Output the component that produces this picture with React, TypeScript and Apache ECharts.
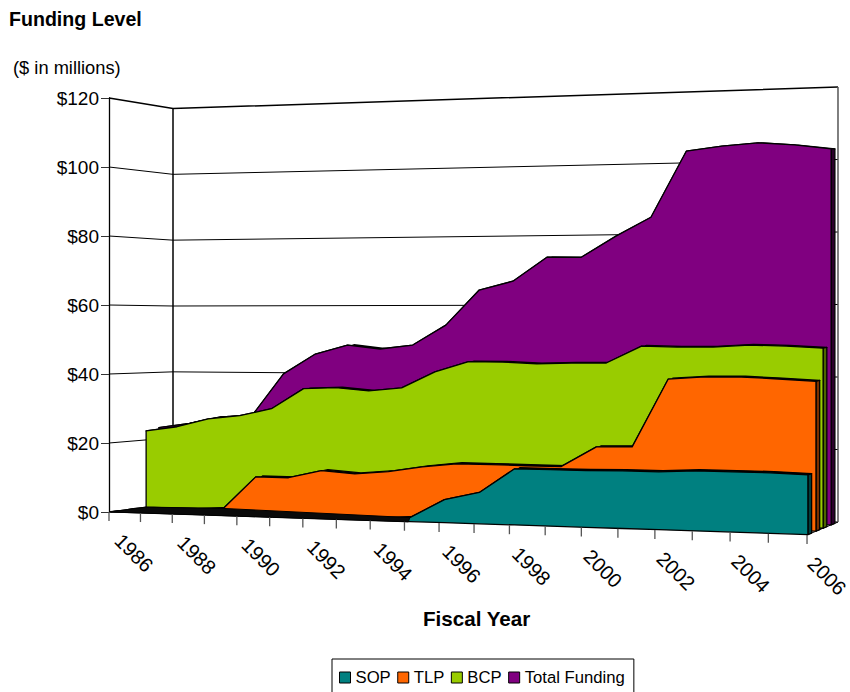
import React, { useEffect, useRef } from "react";
import * as echarts from "echarts";

const FONT = '"Liberation Sans", Arial, sans-serif';
const years = [1986,1987,1988,1989,1990,1991,1992,1993,1994,1995,1996,1997,1998,1999,2000,2001,2002,2003,2004,2005,2006];
const sop = [0,0.4,0.4,0.4,0.4,0.4,0.4,0.4,0.4,1.1,6.4,8.7,15.5,15.5,15.5,15.7,15.7,16.2,16.2,16.2,15.9];
const tlp = [0,0.3,0.6,1.2,10.6,10.6,12.9,12.2,13.1,14.7,15.8,15.8,15.7,15.7,21.4,21.6,40.4,41.1,41.2,40.8,40.3];
const bcp = [22.7,24.1,26.6,27.7,29.9,35.9,36.3,35.5,36.5,41.2,44.2,44.2,43.8,44.1,44.2,49,48.8,48.9,49.5,49.3,48.8];
const total = [23.4,24.8,26.9,27.4,39.9,45.8,48.5,47.4,48.6,54.4,64.5,67,73.8,73.7,79.6,84.8,103.1,104.3,105,104.2,102.9];
const valueTicks = [0,20,40,60,80,100,120];
const labelYears = [1986,1988,1990,1992,1994,1996,1998,2000,2002,2004,2006];

const layers = [
  { name: "Total Funding", values: total, color: "#800080", side: "#2b002b", dL: 0.78, dR: 0.78 },
  { name: "BCP", values: bcp, color: "#99CC00", side: "#4d6600", dL: 0.58, dR: 0.52 },
  { name: "TLP", values: tlp, color: "#FF6600", side: "#7a3000", dL: 0.29, dR: 0.29 },
  { name: "SOP", values: sop, color: "#008080", side: "#004040", dL: 0.03, dR: 0.03 },
];
const THICK = 0.12;
const GL = 109, GT = 98, GW = 698, GH = 414;

const lerp = (a: number, b: number, t: number) => a + (b - a) * t;
function proj(u: number, d: number, v: number): [number, number] {
  const wf = 1 - 0.082 * u, wb = 1 - 0.092 * u;
  const xf = (109 + 631.8 * u) / wf, xb = (173 + 587.9 * u) / wb;
  const yf = (512 - 20.9 * u) / wf, yb = (503.5 - 29.5 * u) / wb;
  const hf = 414 / wf, hb = 395 / wb;
  return [lerp(xf, xb, d), lerp(yf, yb, d) - v * lerp(hf, hb, d)];
}
function at(api: any, year: number, value: number, d: number): [number, number] {
  const c = api.coord([year, value]);
  return proj((c[0] - GL) / GW, d, (GT + GH - c[1]) / GH);
}
function tickAt(api: any, year: number): [number, number] {
  const c = api.coord([year, 0]);
  const u = (c[0] - GL) / GW;
  const x = (109 + 614.9 * u) / (1 - 0.103 * u);
  return [x, 512 + (23 * (x - 109)) / 698];
}

function layerSeries(l: (typeof layers)[number]) {
  return {
    type: "custom", name: l.name, coordinateSystem: "cartesian2d", silent: true, clip: false,
    itemStyle: { color: l.color },
    data: years.map((y, i) => [y, l.values[i]]),
    renderItem: (params: any, api: any) => {
      if (params.dataIndex !== 0) return null;
      const depth = (i: number) => lerp(l.dL, l.dR, i / (years.length - 1));
      const front = years.map((y, i) => at(api, y, l.values[i], depth(i)));
      const back = years.map((y, i) => at(api, y, l.values[i], depth(i) + THICK));
      const bottom = years.map((y, i) => at(api, y, 0, depth(i)));
      const n = years.length - 1;
      const last = years[n];
      const backBase = at(api, last, 0, depth(n) + THICK);
      const ink = { stroke: "#000", lineWidth: 1.3, lineJoin: "round" };
      return {
        type: "group",
        children: [
          { type: "polygon", shape: { points: [...back, ...front.slice().reverse()] }, style: { fill: "#000", ...ink } },
          { type: "polygon", shape: { points: [front[n], back[n], backBase, bottom[n]] }, style: { fill: l.side, ...ink } },
          { type: "polygon", shape: { points: [...front, ...bottom.slice().reverse()] }, style: { fill: l.color, ...ink } },
        ],
      };
    },
  };
}

const wallSeries = {
  type: "custom", coordinateSystem: "cartesian2d", silent: true, clip: false,
  data: valueTicks.map((v) => [years[0], v]),
  renderItem: (params: any, api: any) => {
    const v = api.value(1);
    const first = years[0], last = years[years.length - 1];
    const line = (pts: number[][], w: number, c = "#000") => ({
      type: "polyline", shape: { points: pts }, style: { stroke: c, lineWidth: w, fill: "none" },
    });
    const children: any[] = [];
    if (v > 0) {
      children.push(line([at(api, first, v, 0), at(api, first, v, 1), at(api, last, v, 1)], v === 120 ? 1.5 : 1));
    } else {
      children.push(line([at(api, first, 0, 0), at(api, first, 0, 1), at(api, last, 0, 1), at(api, last, 0, 0)], 1));
    }
    if (v === 120) {
      children.push(line([at(api, first, 0, 1), at(api, first, 120, 1)], 1.5));
      children.push(line([at(api, last, 0, 1), at(api, last, 120, 1)], 1.5, "#555"));
    }
    return { type: "group", children };
  },
};

// dark sliver of floor that the reference shows in front of the low early values
const wedgeSeries = {
  type: "custom", coordinateSystem: "cartesian2d", silent: true, clip: false,
  data: [[years[0], 0]],
  renderItem: (params: any, api: any) => {
    const early = years.slice(0, 10);
    const edge = early.map((y) => at(api, y, 0, 0));
    const top = [
      at(api, 1986, 0, 0.58),
      at(api, 1989, tlp[3], 0.29),
      at(api, 1995, sop[9], 0.03),
    ];
    return {
      type: "polygon",
      shape: { points: [...top, ...edge.slice().reverse()] },
      style: { fill: "#0a0a0a", stroke: "#000", lineWidth: 1 },
    };
  },
};

const tickSeries = {
  type: "custom", coordinateSystem: "cartesian2d", silent: true, clip: false, z: 5,
  data: years.map((y) => [y, 0]),
  renderItem: (params: any, api: any) => {
    const y = api.value(0);
    const p = tickAt(api, y);
    const t = (y - years[0]) / (years[years.length - 1] - years[0]);
    const children: any[] = [
      { type: "line", shape: { x1: p[0], y1: p[1], x2: p[0], y2: p[1] + 9 }, style: { stroke: "#555", lineWidth: 1.3 } },
    ];
    if (labelYears.includes(y)) {
      children.push({
        type: "text", x: p[0] + lerp(25, 20, t), y: p[1] + 41, rotation: (-45 * Math.PI) / 180,
        style: { text: String(y), fill: "#000", textAlign: "center", textVerticalAlign: "middle", font: `20px ${FONT}` },
      });
    }
    return { type: "group", children };
  },
};

export default function App() {
  const ref = useRef<HTMLDivElement>(null);
  useEffect(() => {
    document.body.style.margin = "0";
    const chart = echarts.init(ref.current!, undefined, { renderer: "svg" });
    chart.setOption({
      animation: false,
      backgroundColor: "#fff",
      textStyle: { fontFamily: FONT },
      title: [
        { text: "Funding Level", left: 9, top: 9, padding: 0, textStyle: { fontFamily: FONT, fontSize: 19.6, fontWeight: "bold", color: "#000" } },
        { text: "($ in millions)", left: 13, top: 58, padding: 0, textStyle: { fontFamily: FONT, fontSize: 18.3, fontWeight: "normal", color: "#000" } },
        { text: "Fiscal Year", left: 423, top: 608, padding: 0, textStyle: { fontFamily: FONT, fontSize: 20.6, fontWeight: "bold", color: "#000" } },
      ],
      legend: {
        left: 332, top: 659, padding: [10, 9, 9, 7], itemWidth: 11, itemHeight: 11, itemGap: 6.5,
        borderColor: "#000", borderWidth: 1, selectedMode: false, icon: "rect",
        textStyle: { fontFamily: FONT, fontSize: 16.7, color: "#000" },
        data: ["SOP", "TLP", "BCP", "Total Funding"].map((name) => ({
          name,
          itemStyle: { color: layers.find((l) => l.name === name)!.color, borderColor: "#000", borderWidth: 1 },
        })),
      },
      grid: { left: GL, top: GT, width: GW, height: GH },
      xAxis: { type: "value", min: 1986, max: 2006, show: false },
      yAxis: {
        type: "value", min: 0, max: 120, interval: 20,
        axisLine: { show: true, lineStyle: { color: "#000", width: 1.3 } },
        axisTick: { show: true, length: 8, lineStyle: { color: "#333", width: 1 } },
        splitLine: { show: false },
        axisLabel: { formatter: "${value}", fontFamily: FONT, fontSize: 19, color: "#000", margin: 10 },
      },
      series: [wallSeries, ...layers.map(layerSeries), wedgeSeries, tickSeries],
    });
    return () => chart.dispose();
  }, []);
  return <div ref={ref} style={{ position: "absolute", left: 0, top: 0, width: 850, height: 692 }} />;
}
